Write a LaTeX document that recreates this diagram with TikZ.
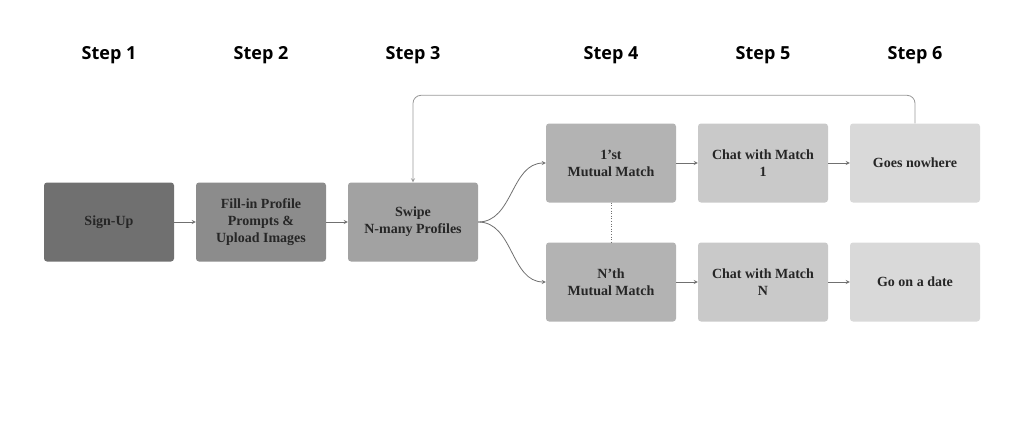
\documentclass[tikz,border=0pt]{standalone}
\usepackage{fontspec}
\setmainfont{Liberation Serif}
\newfontfamily\stepfont{Open Sans}
\usetikzlibrary{positioning}
\definecolor{boxOne}{HTML}{707070}
\definecolor{boxTwo}{HTML}{8C8C8C}
\definecolor{boxThree}{HTML}{A2A2A2}
\definecolor{boxFour}{HTML}{B3B3B3}
\definecolor{boxFive}{HTML}{C9C9C9}
\definecolor{boxSix}{HTML}{D9D9D9}
\definecolor{lineGray}{HTML}{707070}
\tikzset{
  stage/.style={rounded corners=3pt, minimum width=130pt, minimum height=79pt,
    align=center, font=\fontsize{14}{17}\selectfont\bfseries, text=black!85},
  stepLabel/.style={font=\stepfont\fontsize{18}{20}\selectfont\bfseries},
  flow/.style={draw=lineGray, line width=0.8pt, -stealth}
}
\begin{document}
\begin{tikzpicture}[x=1pt,y=-1pt]
        \useasboundingbox (0,0) rectangle (1024,425);

        \node[stage, fill=boxOne]   (signup) at (109,222) {Sign-Up};
        \node[stage, fill=boxTwo]   (fill)   at (261,222) {Fill-in Profile\\Prompts \&\\Upload Images};
        \node[stage, fill=boxThree] (swipe)  at (413,222) {Swipe\\N-many Profiles};
        \node[stage, fill=boxFour]  (first)  at (611,163) {1'st\\Mutual Match};
        \node[stage, fill=boxFour]  (nth)    at (611,282) {N'th\\Mutual Match};
        \node[stage, fill=boxFive]  (chatA)  at (763,163) {Chat with Match\\1};
        \node[stage, fill=boxFive]  (chatN)  at (763,282) {Chat with Match\\N};
        \node[stage, fill=boxSix]   (nowhere) at (915,163) {Goes nowhere};
        \node[stage, fill=boxSix]   (date)   at (915,282) {Go on a date};

        \node[stepLabel] (s1) at (109,55) {Step 1};
        \node[stepLabel] (s2) at (261,55) {Step 2};
        \node[stepLabel] (s3) at (413,55) {Step 3};
        \node[stepLabel] (s4) at (611,55) {Step 4};
        \node[stepLabel] (s5) at (763,55) {Step 5};
        \node[stepLabel] (s6) at (915,55) {Step 6};

        \draw[flow] (signup) -- (fill);
        \draw[flow] (fill) -- (swipe);
        \draw[flow] (swipe.east) to[out=0,in=180] (first.west);
        \draw[flow] (swipe.east) to[out=0,in=180] (nth.west);
        \draw[flow] (first) -- (chatA);
        \draw[flow] (nth) -- (chatN);
        \draw[flow] (chatA) -- (nowhere);
        \draw[flow] (chatN) -- (date);
        \draw[lineGray, line width=0.6pt, dotted] (first) -- (nth);

        % loop back to swiping
        \draw[flow, draw=black!40, rounded corners=8pt]
          (nowhere.north) -- ++(0,-28) -| (swipe.north);
\end{tikzpicture}
\end{document}
